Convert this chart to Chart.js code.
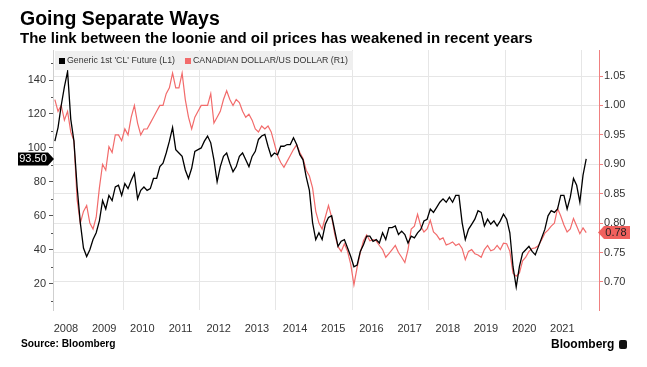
<!DOCTYPE html>
<html>
<head>
<meta charset="utf-8">
<script src="https://cdn.jsdelivr.net/npm/chart.js@4.4.1/dist/chart.umd.min.js"></script>
<style>
  html, body { margin: 0; padding: 0; background: #fff; }
  #wrap { position: relative; width: 647px; height: 367px; overflow: hidden; font-family: 'Liberation Sans', Arial, sans-serif; color: #000; }
  #chart { position: absolute; left: 0; top: 0; }
  .title { position: absolute; left: 20px; top: 8px; font-size: 19.5px; line-height: 20px; font-weight: bold; white-space: nowrap; }
  .subtitle { position: absolute; left: 20px; top: 29px; font-size: 15px; line-height: 17px; font-weight: bold; white-space: nowrap; }
  .source { position: absolute; left: 21px; top: 338px; font-size: 10.2px; line-height: 12px; font-weight: bold; }
  .brand { position: absolute; left: 551px; top: 337px; font-size: 12px; line-height: 14px; font-weight: bold; white-space: nowrap; }
  .brand i { display: inline-block; width: 8px; height: 9px; background: #111; border-radius: 2px; margin-left: 5px; vertical-align: -1px; }
</style>
</head>
<body>
<div id="wrap">
  <canvas id="chart" width="647" height="367"></canvas>
  <div class="title">Going Separate Ways</div>
  <div class="subtitle">The link between the loonie and oil prices has weakened in recent years</div>
  <div class="source">Source: Bloomberg</div>
  <div class="brand">Bloomberg<i></i></div>
</div>
<script>
// monthly readings, March 2008 .. February 2022
const firstMonth = [2008, 3]

// Generic 1st 'CL' Future, USD/bbl
const oil = [
  104, 112, 125, 136, 145, 117, 104, 77, 56, 41,            // 2008
  36, 40, 46, 50, 57, 69, 64, 72, 69, 77, 78, 72,           // 2009
  79, 76, 81, 85, 70, 75, 77, 75, 76, 82, 82, 89,           // 2010
  91, 97, 104, 112, 99, 97, 95, 87, 82, 88, 98, 99,         // 2011
  100, 104, 107, 103, 93, 80, 89, 95, 97, 91, 86, 89,       // 2012
  95, 97, 93, 89, 95, 98, 105, 107, 108, 101, 95, 97,       // 2013
  96, 101, 101, 102, 102, 106, 102, 96, 93, 83, 75, 56,     // 2014
  46, 50, 46, 55, 59, 60, 51, 42, 45, 46, 41, 36,           // 2015
  30, 31, 39, 43, 48, 48, 45, 46, 44, 50, 46, 53,           // 2016
  53, 54, 49, 51, 49, 44, 48, 47, 50, 52, 57, 58,           // 2017
  64, 62, 65, 68, 70, 68, 71, 68, 72, 72, 56, 46,           // 2018
  52, 55, 58, 63, 62, 54, 58, 55, 57, 54, 57, 61,           // 2019
  58, 50, 30, 18, 30, 38, 40, 42, 39, 37, 42, 47,           // 2020
  52, 60, 63, 62, 64, 72, 72, 64, 71, 82, 78, 68,           // 2021
  84, 93.5                                                  // 2022
]

// Canadian dollar in US dollars
const cad = [
  1.01, 0.99, 1.00, 0.975, 0.99, 0.955, 0.94, 0.84, 0.80, 0.82,                 // 2008
  0.83, 0.80, 0.79, 0.81, 0.86, 0.90, 0.89, 0.93, 0.92, 0.95, 0.95, 0.94,       // 2009
  0.96, 0.95, 0.98, 1.00, 0.97, 0.95, 0.96, 0.96, 0.97, 0.98, 0.99, 1.00,       // 2010
  1.00, 1.02, 1.03, 1.055, 1.03, 1.03, 1.055, 1.01, 0.98, 0.96, 0.98, 0.99,     // 2011
  1.00, 1.00, 1.00, 1.02, 0.97, 0.98, 0.99, 1.01, 1.025, 1.01, 1.00, 1.01,      // 2012
  1.005, 0.99, 0.98, 0.985, 0.975, 0.96, 0.955, 0.965, 0.96, 0.965, 0.955, 0.935, // 2013
  0.915, 0.903, 0.895, 0.905, 0.915, 0.925, 0.933, 0.92, 0.91, 0.89, 0.88, 0.86, // 2014
  0.82, 0.80, 0.79, 0.81, 0.83, 0.81, 0.78, 0.76, 0.752, 0.765, 0.752, 0.73,    // 2015
  0.695, 0.725, 0.75, 0.77, 0.78, 0.77, 0.772, 0.77, 0.762, 0.755, 0.742, 0.748, // 2016
  0.755, 0.762, 0.75, 0.742, 0.733, 0.755, 0.79, 0.795, 0.815, 0.795, 0.785, 0.79, // 2017
  0.805, 0.785, 0.78, 0.772, 0.775, 0.763, 0.765, 0.768, 0.762, 0.765, 0.757, 0.738, // 2018
  0.752, 0.755, 0.748, 0.746, 0.742, 0.755, 0.762, 0.753, 0.755, 0.762, 0.755, 0.766, // 2019
  0.765, 0.752, 0.715, 0.71, 0.715, 0.736, 0.742, 0.752, 0.757, 0.758, 0.762, 0.772, // 2020
  0.783, 0.788, 0.795, 0.80, 0.825, 0.812, 0.797, 0.785, 0.79, 0.808, 0.795, 0.782, // 2021
  0.792, 0.784                                                                   // 2022
]

const yearLabels = [2008, 2009, 2010, 2011, 2012, 2013, 2014, 2015, 2016, 2017, 2018, 2019, 2020, 2021]
const gridYears = [2010, 2012, 2014, 2016, 2018, 2020, 2022]
const leftTicks = [20, 40, 60, 80, 100, 120, 140]
const leftMinor = [10, 30, 50, 70, 90, 110, 130, 150]
const rightTicks = [0.70, 0.75, 0.80, 0.85, 0.90, 0.95, 1.00, 1.05]

// mid-month positions as decimal years
const dates = oil.map((_, i) => {
  const m = firstMonth[1] - 1 + i
  return firstMonth[0] + Math.floor(m / 12) + ((m % 12) + 0.5) / 12
})

const xMin = 2008.16, xMax = 2022.46
const tickFont = { family: "'Liberation Sans', Arial, sans-serif", size: 11 }

const overlay = {
  id: 'overlay',
  afterDraw(chart) {
    const ctx = chart.ctx
    const area = chart.chartArea
    const yL = chart.scales.y, yR = chart.scales.y1
    ctx.save()

    // minor ticks on the left axis
    ctx.strokeStyle = '#555'
    ctx.lineWidth = 1
    leftMinor.forEach(v => {
      const py = Math.round(yL.getPixelForValue(v)) + 0.5
      ctx.beginPath(); ctx.moveTo(area.left - 2, py); ctx.lineTo(area.left, py); ctx.stroke()
    })

    // legend band
    ctx.fillStyle = '#efefef'
    ctx.fillRect(area.left + 2, area.top + 1, 298, 19)
    ctx.font = "8.8px 'Liberation Sans', Arial, sans-serif"
    ctx.textBaseline = 'middle'
    ctx.textAlign = 'left'
    let lx = area.left + 6
    const ly = area.top + 11
    chart.data.datasets.forEach(ds => {
      ctx.fillStyle = ds.borderColor
      ctx.fillRect(lx, ly - 3, 6, 6)
      ctx.fillStyle = '#333'
      ctx.fillText(ds.label, lx + 8, ly)
      lx += 8 + ctx.measureText(ds.label).width + 10
    })

    // last value tags
    const lastOil = oil[oil.length - 1], lastCad = cad[cad.length - 1]
    let py = yL.getPixelForValue(lastOil)
    ctx.fillStyle = '#000'
    ctx.beginPath()
    ctx.moveTo(area.left + 1, py)
    ctx.lineTo(area.left - 5, py - 6.5)
    ctx.lineTo(18, py - 6.5)
    ctx.lineTo(18, py + 6.5)
    ctx.lineTo(area.left - 5, py + 6.5)
    ctx.closePath(); ctx.fill()
    ctx.fillStyle = '#fff'
    ctx.font = "11px 'Liberation Sans', Arial, sans-serif"
    ctx.textAlign = 'center'
    ctx.fillText(lastOil.toFixed(2), 33, py + 0.5)

    py = yR.getPixelForValue(lastCad)
    ctx.fillStyle = '#f0605d'
    ctx.beginPath()
    ctx.moveTo(area.right - 1, py)
    ctx.lineTo(area.right + 5, py - 6.5)
    ctx.lineTo(630, py - 6.5)
    ctx.lineTo(630, py + 6.5)
    ctx.lineTo(area.right + 5, py + 6.5)
    ctx.closePath(); ctx.fill()
    ctx.fillStyle = '#222'
    ctx.fillText(lastCad.toFixed(2), 616, py + 0.5)
    ctx.restore()
  }
}

new Chart(document.querySelector('#chart'), {
  type: 'line',
  data: {
    datasets: [{
      label: "Generic 1st 'CL' Future (L1)",
      data: dates.map((d, i) => ({ x: d, y: oil[i] })),
      borderColor: '#000',
      borderWidth: 1.3,
      yAxisID: 'y',
      order: 0
    }, {
      label: 'CANADIAN DOLLAR/US DOLLAR (R1)',
      data: dates.map((d, i) => ({ x: d, y: cad[i] })),
      borderColor: '#f26b6b',
      borderWidth: 1.2,
      yAxisID: 'y1',
      order: 1
    }]
  },
  options: {
    responsive: false,
    animation: false,
    events: [],
    elements: { point: { radius: 0 }, line: { tension: 0 } },
    layout: { padding: { left: 0, right: 0, top: 50, bottom: 30 } },
    plugins: { legend: { display: false }, tooltip: { enabled: false } },
    scales: {
      x: {
        type: 'linear', position: 'bottom', min: xMin, max: xMax,
        afterBuildTicks: s => { s.ticks = gridYears.map(v => ({ value: v })) },
        afterFit: s => { s.height = 0 },
        ticks: { display: false },
        grid: { color: '#e6e6e6', drawTicks: false },
        border: { display: false }
      },
      x2: {
        type: 'linear', position: 'bottom', min: xMin, max: xMax,
        afterBuildTicks: s => { s.ticks = yearLabels.map(v => ({ value: v + 0.5 })) },
        afterFit: s => { s.height = 27 },
        ticks: {
          color: '#333', font: tickFont, autoSkip: false, maxRotation: 0, padding: 4,
          callback: v => String(Math.floor(v))
        },
        grid: { display: false },
        border: { display: false }
      },
      y: {
        position: 'left', min: 4.5, max: 157.7,
        afterBuildTicks: s => { s.ticks = leftTicks.map(v => ({ value: v })) },
        afterFit: s => { s.width = 53 },
        ticks: { color: '#333', font: tickFont, padding: 3 },
        grid: { drawOnChartArea: false, tickLength: 4, color: '#555' },
        border: { color: '#cfcfcf' }
      },
      y1: {
        position: 'right', min: 0.6524, max: 1.0942,
        afterBuildTicks: s => { s.ticks = rightTicks.map(v => ({ value: v })) },
        afterFit: s => { s.width = 48 },
        ticks: { color: '#333', font: tickFont, padding: 1, callback: v => v.toFixed(2) },
        grid: { color: '#e6e6e6', tickColor: '#f08080', tickLength: 4 },
        border: { color: '#f08080' }
      }
    }
  },
  plugins: [overlay]
})
</script>
</body>
</html>
